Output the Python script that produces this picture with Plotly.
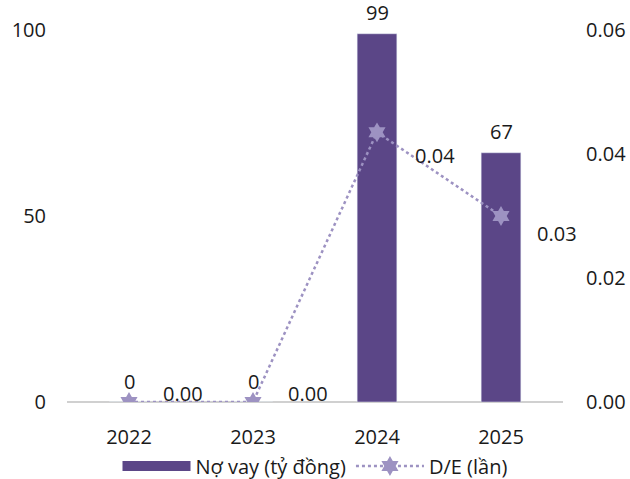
import plotly.graph_objects as go

years = ["2022", "2023", "2024", "2025"]
debt = [0, 0, 99, 67]
de_ratio = [0.0, 0.0, 0.0435, 0.030]
de_labels = ["0.00", "0.00", "0.04", "0.03"]
debt_labels = ["0", "0", "99", "67"]

BAR = "#5b4687"
LINE = "#9d92c2"
FONT = "Open Sans, sans-serif"
TXT = "#1a1a1a"
FS = 20

fig = go.Figure()
fig.add_trace(go.Bar(x=years, y=debt, marker_color=BAR, width=0.32,
                     showlegend=False))
fig.add_trace(go.Scatter(x=[None], y=[None], mode="lines",
                         line=dict(color=BAR, width=13),
                         name="Nợ vay (tỷ đồng)"))
fig.add_trace(go.Scatter(x=years, y=de_ratio, mode="lines+markers", yaxis="y2",
                         line=dict(color=LINE, width=2.5, dash="dot"),
                         marker=dict(symbol="hexagram", size=15, color=LINE),
                         name="D/E (lần)"))

ann = []
for i, (v, t) in enumerate(zip(debt, debt_labels)):
    ann.append(dict(x=i, y=v, xref="x", yref="y", text=t, showarrow=False,
                    yshift=21, font=dict(size=FS, color=TXT, family=FONT)))
offs = [(54, 9), (55, 9), (58, -23), (56, -17)]
for i, ((v, t), (dx, dy)) in enumerate(zip(zip(de_ratio, de_labels), offs)):
    ann.append(dict(x=i, y=v, xref="x", yref="y2", text=t, showarrow=False,
                    xshift=dx, yshift=dy, font=dict(size=FS, color=TXT, family=FONT)))

fig.update_layout(
    width=630, height=479,
    margin=dict(l=67, r=67, t=30, b=77, autoexpand=False),
    paper_bgcolor="white", plot_bgcolor="white",
    font=dict(family=FONT, size=FS, color=TXT),
    xaxis=dict(type="category", categoryorder="array", categoryarray=years,
               range=[-0.5, 3.5], showgrid=False, showline=False, automargin=False,
               ticks="outside", ticklen=17, tickcolor="rgba(0,0,0,0)"),
    yaxis=dict(range=[0, 100], dtick=50, showgrid=False, zeroline=True,
               zerolinecolor="#d0d0d0", zerolinewidth=1.5, showline=False,
               automargin=False,
               ticks="outside", ticklen=16, tickcolor="rgba(0,0,0,0)"),
    yaxis2=dict(range=[0, 0.06], dtick=0.02, tickformat=".2f", overlaying="y",
                side="right", showgrid=False, zeroline=False, showline=False,
                automargin=False,
                ticks="outside", ticklen=18, tickcolor="rgba(0,0,0,0)"),
    legend=dict(orientation="h", x=0.5, xanchor="center", y=-0.172, yanchor="middle",
                itemwidth=68, font=dict(size=FS), traceorder="normal",
                bgcolor="rgba(0,0,0,0)"),
    annotations=ann,
)
fig.write_html("out.html")
